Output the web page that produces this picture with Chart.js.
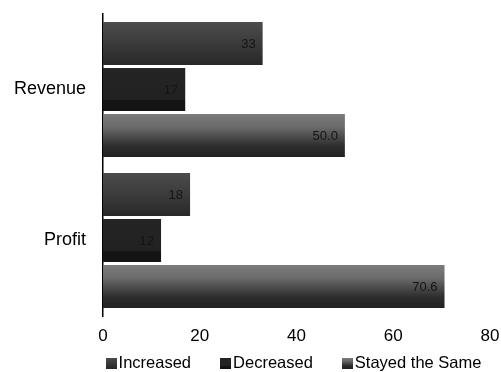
<!DOCTYPE html>
<html>
<head>
<meta charset="utf-8">
<script src="https://cdn.jsdelivr.net/npm/chart.js@4.4.0/dist/chart.umd.min.js"></script>
<style>
  html, body { margin: 0; padding: 0; background: #fff; }
  #wrap { width: 501px; height: 372px; position: relative; }
</style>
</head>
<body>
<div id="wrap"><canvas id="chart"></canvas></div>
<script>
// Survey results: share of respondents per answer, by measure
const categories = ['Revenue', 'Profit'];
const seriesNames = ['Increased', 'Decreased', 'Stayed the Same'];
const increased = [33, 18];
const decreased = [17, 12];
const stayedSame = [50.0, 70.6];
const labelDecimals = [0, 0, 1];
const xTicks = [0, 20, 40, 60, 80];

const FONT = '"Liberation Sans", Arial, Helvetica, sans-serif';

// vertical shading of each series, as [offset, colour] stops
const shading = [
  [[0, '#4c4c4c'], [0.5, '#3b3b3b'], [1, '#282828']],
  [[0, '#242424'], [0.73, '#222222'], [0.75, '#151515'], [1, '#131313']],
  [[0, '#7b7b7b'], [0.3, '#6b6b6b'], [0.75, '#2d2d2d'], [1, '#222222']]
];

function makeGradient(c, seriesIndex, top, bottom) {
  const g = c.createLinearGradient(0, top, 0, bottom);
  shading[seriesIndex].forEach(([o, col]) => g.addColorStop(o, col));
  return g;
}

function barFill(ctx) {
  const stops = shading[ctx.datasetIndex];
  const el = ctx.element;
  if (!el || !isFinite(el.y) || !isFinite(el.height)) {
    return stops[1][1];
  }
  return makeGradient(ctx.chart.ctx, ctx.datasetIndex, el.y - el.height / 2, el.y + el.height / 2);
}

// numbers written near the end of each bar
const valueLabels = {
  id: 'valueLabels',
  afterDatasetsDraw(chart) {
    const c = chart.ctx;
    c.save();
    c.font = '13px ' + FONT;
    c.fillStyle = '#141414';
    c.textAlign = 'right';
    c.textBaseline = 'middle';
    chart.data.datasets.forEach((ds, i) => {
      chart.getDatasetMeta(i).data.forEach((el, j) => {
        c.fillText(ds.data[j].toFixed(labelDecimals[i]), el.x - 7, el.y + 0.5);
      });
    });
    c.restore();
  }
};

// compact legend row under the axis
const bottomLegend = {
  id: 'bottomLegend',
  afterDraw(chart) {
    const c = chart.ctx;
    c.save();
    c.font = '16.5px ' + FONT;
    c.textBaseline = 'middle';
    c.textAlign = 'left';
    const box = 11, gap = 2, spacing = 29;
    const items = chart.data.datasets.map((ds, i) => ({ text: ds.label, w: c.measureText(ds.label).width, i }));
    const total = items.reduce((s, it) => s + box + gap + it.w, 0) + spacing * (items.length - 1);
    const cx = (chart.chartArea.left + chart.chartArea.right) / 2 - 3;
    let x = cx - total / 2;
    const y = chart.height - 9;
    items.forEach(it => {
      c.fillStyle = makeGradient(c, it.i, y - box / 2, y + box / 2);
      c.fillRect(Math.round(x), Math.round(y - box / 2), box, box);
      c.fillStyle = '#000';
      c.fillText(it.text, x + box + gap, y);
      x += box + gap + it.w + spacing;
    });
    c.restore();
  }
};

const seriesData = [increased, decreased, stayedSame];

const chart = new Chart(document.getElementById('chart'), {
  type: 'bar',
  data: {
    labels: categories,
    datasets: seriesNames.map((name, i) => ({
      label: name,
      data: seriesData[i],
      backgroundColor: barFill,
      borderWidth: 0,
      categoryPercentage: 0.914,
      barPercentage: 0.935
    }))
  },
  options: {
    indexAxis: 'y',
    responsive: true,
    maintainAspectRatio: false,
    animation: false,
    layout: { padding: { top: 14, left: 0, right: 0, bottom: 22 } },
    scales: {
      x: {
        min: xTicks[0],
        max: xTicks[xTicks.length - 1],
        afterBuildTicks(s) { s.ticks = xTicks.map(v => ({ value: v })); },
        ticks: { font: { size: 17, family: FONT }, color: '#000', padding: 10 },
        grid: { display: false, drawTicks: false },
        border: { display: false },
        afterFit(s) { s.height = 34; s.paddingRight = 11; s.paddingLeft = 0; }
      },
      y: {
        ticks: { font: { size: 18, family: FONT }, color: '#000', padding: 17 },
        grid: { display: false, drawTicks: false },
        border: { display: true, color: '#000', width: 1.5 },
        afterFit(s) { s.width = 103; s.paddingTop = 0; s.paddingBottom = 0; }
      }
    },
    plugins: {
      legend: { display: false },
      tooltip: { enabled: false }
    }
  },
  plugins: [valueLabels, bottomLegend]
});
// second pass so the bar shading follows the laid-out bars
chart.update();
</script>
</body>
</html>
